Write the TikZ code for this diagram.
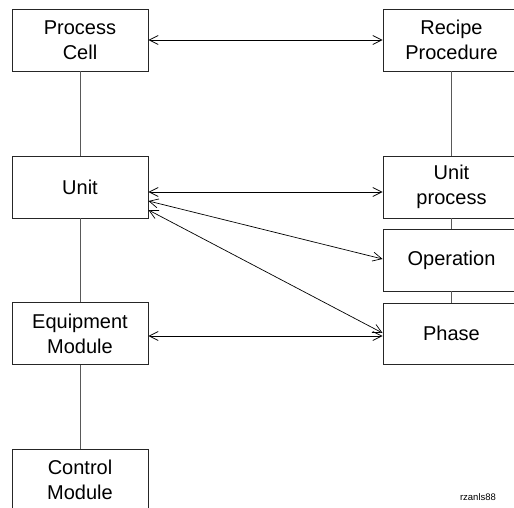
\documentclass[tikz,border=0pt]{standalone}
\usepackage{fontspec}
\setmainfont{Liberation Sans}
\usetikzlibrary{arrows.meta,calc}
\begin{document}
\begin{tikzpicture}[x=1pt,y=-1pt,
  level/.style={draw=black!85,line width=0.9pt,fill=white,minimum width=136pt,
    minimum height=62pt,inner sep=0pt,align=center,
    font=\fontsize{20}{25}\selectfont},
  tie/.style={draw=black!65,line width=1pt},
  link/.style={draw=black,line width=0.7pt,
    {Straight Barb[length=9pt,width=9pt]}-{Straight Barb[length=9pt,width=9pt]}}]
\useasboundingbox (0,0) rectangle (514,508);
\fill[white] (0,0) rectangle (514,508);

% physical model (left column)
\node[level] (pc) at (80,40) {Process\\Cell};
\node[level] (unit) at (80,187) {Unit};
\node[level] (em) at (80,333.5) {Equipment\\Module};
\node[level] (cm) at (80,480) {Control\\Module};

% procedural model (right column)
\node[level,minimum width=137pt] (rp) at (451.5,40) {Recipe\\Procedure};
\node[level,minimum width=137pt] (up) at (451.5,187) {Unit\\process};
\node[level,minimum width=137pt] (op) at (451.5,260) {Operation};
\node[level,minimum width=137pt,minimum height=61pt] (ph) at (451.5,333.5) {Phase};

% hierarchy lines
\draw[tie] (pc.south) -- (unit.north);
\draw[tie] (unit.south) -- (em.north);
\draw[tie] (em.south) -- (cm.north);
\draw[tie] (rp.south) -- (up.north);
\draw[tie] (up.south) -- (op.north);
\draw[tie] (op.south) -- (ph.north);

% correspondences
\draw[link] (pc.east) -- (rp.west);
\draw[link] ($(unit.east)+(0,5)$) -- ($(up.west)+(0,5)$);
\draw[link] ($(unit.east)+(0,14)$) -- ($(op.west)+(0,-1)$);
\draw[link] ($(unit.east)+(0,23)$) -- ($(ph.west)+(0,-0.5)$);
\draw[link] ($(em.east)+(0,2.5)$) -- ($(ph.west)+(0,2.5)$);

\node[font=\fontsize{9.5}{11}\selectfont,inner sep=0pt] (tag) at (478,497) {rzanls88};
\end{tikzpicture}
\end{document}
